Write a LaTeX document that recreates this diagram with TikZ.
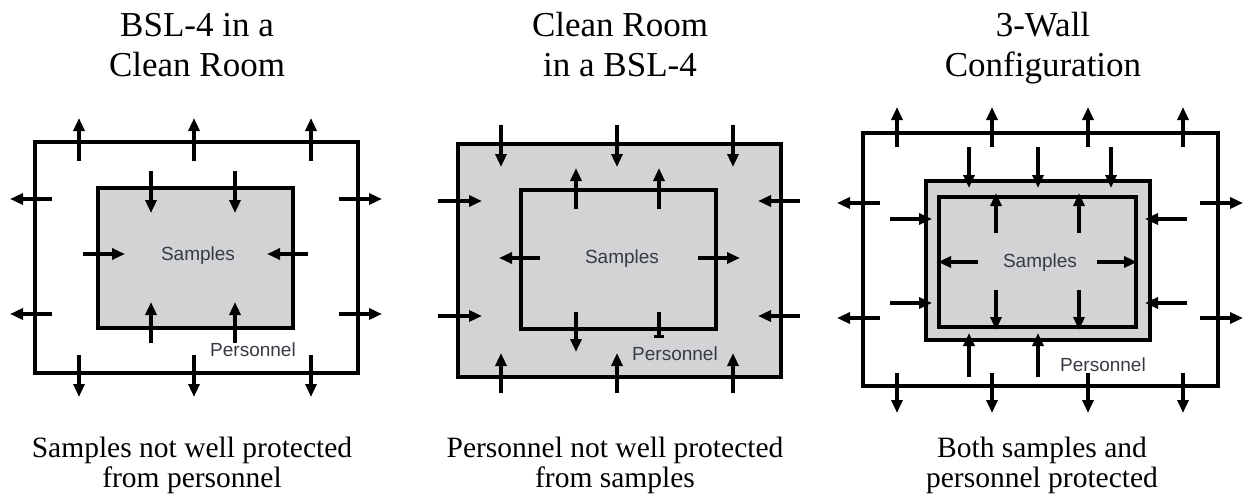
\documentclass[tikz,border=0pt]{standalone}
\usepackage{fontspec}
\setmainfont{Liberation Serif}
\newfontfamily\labfont{Liberation Sans}
\usetikzlibrary{arrows.meta}
\definecolor{roomgray}{RGB}{209,211,212}
\definecolor{labgray}{RGB}{55,58,66}
\tikzset{
  wall/.style={line width=4pt, line join=miter},
  flow/.style={line width=4pt, -{Triangle[length=13pt,width=11pt]}},
  barflow/.style={line width=4pt, -{Bar[width=10pt,line width=3pt]}},
  ttl/.style={font=\fontsize{35}{40}\selectfont, anchor=base, inner sep=0pt},
  captxt/.style={font=\fontsize{29.5}{30}\selectfont, anchor=base, inner sep=0pt},
  lab/.style={font=\labfont\fontsize{19}{22}\selectfont, text=labgray, anchor=base, inner sep=0pt}
}
\newcommand{\arr}[4]{\draw[flow] (#1,#2) -- (#3,#4);}
\begin{document}
\begin{tikzpicture}[x=1pt,y=-1pt]
\useasboundingbox (0,0) rectangle (1249,495);

% ---------- Panel 1: BSL-4 in a Clean Room ----------
\node[ttl] (t1a) at (197,37) {BSL-4 in a};
\node[ttl] (t1b) at (197,77) {Clean Room};
\draw[wall] (35,142) rectangle (358,373);
\draw[wall, fill=roomgray] (98,188) rectangle (293,328);
\foreach \x in {79,194,311} { \arr{\x}{161}{\x}{118} \arr{\x}{355}{\x}{397} }
\foreach \y in {199,314} { \arr{52}{\y}{10}{\y} \arr{339}{\y}{382}{\y} }
\foreach \x in {151,235} { \arr{\x}{171}{\x}{213} \arr{\x}{343}{\x}{302} }
\arr{83}{254}{125}{254}
\arr{308}{254}{267}{254}
\node[lab] (s1) at (198,260) {Samples};
\node[lab] (p1) at (253,356) {Personnel};
\node[captxt] (c1a) at (192,457) {Samples not well protected};
\node[captxt] (c1b) at (192,487) {from personnel};

% ---------- Panel 2: Clean Room in a BSL-4 ----------
\node[ttl] (t2a) at (620,37) {Clean Room};
\node[ttl] (t2b) at (620,77) {in a BSL-4};
\draw[wall, fill=roomgray] (458,144) rectangle (781,377);
\draw[wall] (521,190) rectangle (716,329);
\foreach \x in {501,617,733} { \arr{\x}{125}{\x}{167} \arr{\x}{393}{\x}{353} }
\foreach \y in {201,316} { \arr{438}{\y}{482}{\y} \arr{800}{\y}{758}{\y} }
\foreach \x in {576,659} { \arr{\x}{209}{\x}{168} }
\arr{576}{312}{576}{352}
\draw[barflow] (659,312) -- (659,338);
\arr{540}{258}{499}{258}
\arr{698}{258}{740}{258}
\node[lab] (s2) at (622,263) {Samples};
\node[lab] (p2) at (675,360) {Personnel};
\node[captxt] (c2a) at (615,457) {Personnel not well protected};
\node[captxt] (c2b) at (615,487) {from samples};

% ---------- Panel 3: 3-Wall Configuration ----------
\node[ttl] (t3a) at (1043,37) {3-Wall};
\node[ttl] (t3b) at (1043,77) {Configuration};
\draw[wall] (863,133) rectangle (1218,386);
\draw[wall, fill=roomgray] (926,181) rectangle (1150,340);
\draw[wall] (939,197) rectangle (1136,327);
\foreach \x in {897,992,1088,1183} { \arr{\x}{147}{\x}{107} \arr{\x}{373}{\x}{413} }
\foreach \y in {203,318} { \arr{880}{\y}{837}{\y} \arr{1200}{\y}{1243}{\y} }
\foreach \x in {969,1038,1111} { \arr{\x}{147}{\x}{188} }
\foreach \x in {969,1038} { \arr{\x}{377}{\x}{333} }
\foreach \y in {219,303} { \arr{890}{\y}{932}{\y} \arr{1187}{\y}{1145}{\y} }
\foreach \x in {996,1079} { \arr{\x}{233}{\x}{193} \arr{\x}{290}{\x}{330} }
\arr{978}{262}{938}{262}
\arr{1097}{262}{1137}{262}
\node[lab] (s3) at (1040,267) {Samples};
\node[lab] (p3) at (1103,371) {Personnel};
\node[captxt] (c3a) at (1042,457) {Both samples and};
\node[captxt] (c3b) at (1042,487) {personnel protected};
\end{tikzpicture}
\end{document}
